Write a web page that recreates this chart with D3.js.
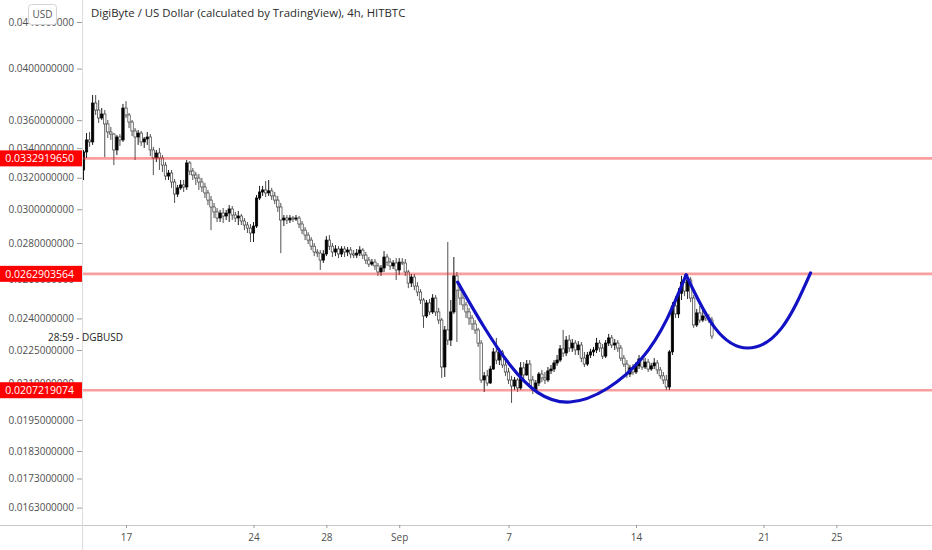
<!DOCTYPE html>
<html><head><meta charset="utf-8">
<script src="https://cdn.jsdelivr.net/npm/d3@7"></script>
<style>
html,body{margin:0;padding:0;background:#fff;}
svg{display:block;font-family:"Open Sans",sans-serif;}
</style></head><body>
<svg id="chart" width="932" height="550"></svg>
<script>
const title = "DigiByte / US Dollar (calculated by TradingView), 4h, HITBTC";
const currency = "USD";
const countdownLabel = "28:59 - DGBUSD";
const firstCandle = "2020-08-14T16:00:00Z";
const candleHours = 4;
// [open, high, low, close]
const ohlc = [
[.03251,.03387,.03185,.03373],[.03373,.03506,.03332,.03457],[.03457,.03514,.03408,.03443],[.03443,.03790,.03422,.03728],
[.03728,.03790,.03638,.03675],[.03675,.03751,.03579,.03616],[.03616,.03690,.03601,.03645],[.03645,.03675,.03338,.03572],
[.03572,.03601,.03471,.03514],[.03514,.03550,.03457,.03499],[.03499,.03506,.03284,.03387],[.03387,.03492,.03352,.03478],
[.03478,.03499,.03415,.03457],[.03457,.03721,.03443,.03690],[.03690,.03743,.03616,.03638],[.03638,.03653,.03542,.03586],
[.03586,.03601,.03485,.03521],[.03521,.03542,.03318,.03478],[.03478,.03528,.03422,.03506],[.03506,.03521,.03415,.03443],
[.03443,.03478,.03401,.03464],[.03464,.03514,.03422,.03478],[.03478,.03499,.03345,.03387],[.03387,.03408,.03218,.03332],
[.03332,.03387,.03304,.03366],[.03366,.03401,.03251,.03332],[.03332,.03352,.03238,.03284],[.03284,.03304,.03185,.03211],
[.03211,.03251,.03185,.03231],[.03231,.03251,.03134,.03172],[.03172,.03192,.03039,.03095],[.03095,.03153,.03076,.03134],
[.03134,.03185,.03121,.03153],[.03153,.03185,.03108,.03140],[.03140,.03318,.03121,.03298],[.03298,.03311,.03218,.03244],
[.03244,.03264,.03185,.03218],[.03218,.03238,.03153,.03198],[.03198,.03225,.03121,.03172],[.03172,.03198,.03108,.03140],
[.03140,.03166,.03070,.03102],[.03102,.03121,.03026,.03057],[.03057,.03083,.02875,.03014],[.03014,.03039,.02947,.02984],
[.02984,.03008,.02923,.02947],[.02947,.02996,.02923,.02977],[.02977,.03008,.02917,.02959],[.02959,.02996,.02935,.02977],
[.02977,.03026,.02923,.03002],[.03002,.03020,.02935,.02965],[.02965,.02984,.02923,.02947],[.02947,.02990,.02905,.02959],
[.02959,.02971,.02905,.02929],[.02929,.02947,.02875,.02905],[.02905,.02923,.02858,.02887],[.02887,.02911,.02806,.02858],
[.02858,.02923,.02806,.02899],[.02899,.03089,.02887,.03070],[.03070,.03147,.03057,.03108],[.03108,.03147,.03083,.03121],
[.03121,.03179,.03076,.03102],[.03102,.03185,.03083,.03115],[.03115,.03134,.03057,.03083],[.03083,.03108,.03032,.03057],
[.03057,.03083,.02984,.03014],[.03014,.03039,.02743,.02935],[.02935,.02965,.02899,.02947],[.02947,.02965,.02911,.02935],
[.02935,.02965,.02917,.02947],[.02947,.02959,.02923,.02941],[.02941,.02965,.02929,.02947],[.02947,.02959,.02887,.02911],
[.02911,.02929,.02852,.02875],[.02875,.02893,.02817,.02846],[.02846,.02863,.02794,.02817],[.02817,.02834,.02760,.02782],
[.02782,.02800,.02726,.02749],[.02749,.02766,.02721,.02743],[.02743,.02760,.02650,.02704],[.02704,.02760,.02688,.02738],
[.02738,.02840,.02726,.02817],[.02817,.02846,.02760,.02782],[.02782,.02800,.02721,.02749],[.02749,.02788,.02726,.02766],
[.02766,.02782,.02715,.02738],[.02738,.02782,.02721,.02766],[.02766,.02782,.02721,.02749],[.02749,.02777,.02726,.02760],
[.02760,.02777,.02715,.02738],[.02738,.02760,.02715,.02732],[.02732,.02766,.02715,.02743],[.02743,.02782,.02726,.02760],
[.02760,.02771,.02710,.02732],[.02732,.02749,.02682,.02704],[.02704,.02721,.02666,.02682],[.02682,.02710,.02672,.02693],
[.02693,.02710,.02650,.02672],[.02672,.02688,.02618,.02639],[.02639,.02677,.02618,.02661],[.02661,.02754,.02639,.02721],
[.02721,.02738,.02672,.02693],[.02693,.02715,.02650,.02672],[.02672,.02704,.02655,.02688],[.02688,.02715,.02596,.02650],
[.02650,.02715,.02623,.02693],[.02693,.02715,.02677,.02688],[.02688,.02710,.02618,.02639],[.02639,.02650,.02553,.02580],
[.02580,.02628,.02559,.02612],[.02612,.02628,.02543,.02564],[.02564,.02585,.02512,.02533],[.02533,.02548,.02472,.02492],
[.02492,.02502,.02354,.02412],[.02412,.02492,.02402,.02477],[.02477,.02497,.02417,.02432],[.02432,.02522,.02422,.02502],
[.02502,.02517,.02412,.02432],[.02432,.02452,.02373,.02392],[.02392,.02402,.02125,.02173],[.02173,.02363,.02129,.02344],
[.02344,.02806,.02273,.02296],[.02296,.02492,.02268,.02432],[.02432,.02721,.02422,.02618],[.02618,.02639,.02287,.02543],
[.02543,.02574,.02467,.02502],[.02502,.02527,.02442,.02467],[.02467,.02482,.02402,.02432],[.02432,.02452,.02368,.02402],
[.02402,.02417,.02344,.02373],[.02373,.02392,.02325,.02344],[.02344,.02354,.02264,.02282],[.02282,.02296,.02103,.02116],
[.02116,.02151,.02065,.02134],[.02134,.02160,.02090,.02103],[.02103,.02178,.02099,.02164],[.02164,.02259,.02160,.02241],
[.02241,.02306,.02186,.02204],[.02204,.02259,.02182,.02241],[.02241,.02250,.02169,.02182],[.02182,.02200,.02134,.02151],
[.02151,.02169,.02099,.02116],[.02116,.02134,.02019,.02090],[.02090,.02129,.02073,.02116],[.02116,.02125,.02065,.02082],
[.02082,.02195,.02073,.02169],[.02169,.02195,.02116,.02138],[.02138,.02204,.02134,.02186],[.02186,.02204,.02099,.02116],
[.02116,.02134,.02056,.02073],[.02073,.02116,.02065,.02103],[.02103,.02151,.02090,.02142],[.02142,.02160,.02107,.02125],
[.02125,.02151,.02099,.02116],[.02116,.02173,.02107,.02156],[.02156,.02182,.02142,.02164],[.02164,.02204,.02151,.02191],
[.02191,.02227,.02178,.02204],[.02204,.02273,.02195,.02255],[.02255,.02344,.02218,.02236],[.02236,.02315,.02222,.02296],
[.02296,.02320,.02241,.02259],[.02259,.02301,.02241,.02282],[.02282,.02296,.02227,.02250],[.02250,.02291,.02227,.02273],
[.02273,.02287,.02195,.02213],[.02213,.02241,.02173,.02186],[.02186,.02241,.02178,.02227],[.02227,.02255,.02213,.02241],
[.02241,.02264,.02222,.02250],[.02250,.02306,.02236,.02282],[.02282,.02296,.02241,.02259],[.02259,.02278,.02209,.02222],
[.02222,.02296,.02213,.02282],[.02282,.02325,.02268,.02306],[.02306,.02320,.02259,.02273],[.02273,.02301,.02250,.02282],
[.02282,.02296,.02241,.02259],[.02259,.02273,.02200,.02213],[.02213,.02227,.02173,.02186],[.02186,.02204,.02125,.02142],
[.02142,.02182,.02129,.02169],[.02169,.02186,.02138,.02151],[.02151,.02195,.02142,.02178],[.02178,.02227,.02164,.02209],
[.02209,.02222,.02160,.02173],[.02173,.02213,.02164,.02195],[.02195,.02209,.02151,.02164],[.02164,.02191,.02156,.02178],
[.02178,.02213,.02164,.02191],[.02191,.02204,.02142,.02160],[.02160,.02173,.02121,.02134],[.02134,.02151,.02099,.02116],
[.02116,.02138,.02073,.02086],[.02086,.02250,.02073,.02241],[.02241,.02482,.02227,.02462],[.02462,.02512,.02402,.02422],
[.02422,.02553,.02402,.02527],[.02527,.02618,.02492,.02585],[.02585,.02623,.02512,.02538],[.02538,.02628,.02497,.02596],
[.02596,.02612,.02482,.02502],[.02502,.02517,.02354,.02368],[.02368,.02447,.02358,.02427],[.02427,.02462,.02378,.02392],
[.02392,.02442,.02382,.02412],[.02412,.02432,.02387,.02402],[.02402,.02422,.02378,.02392],[.02392,.02407,.02301,.02315]
];
const yTicks = [0.044,0.040,0.036,0.034,0.032,0.030,0.028,0.026,0.024,0.0225,0.021,0.0195,0.0183,0.0173,0.0163];
const xTickDates = ["2020-08-17","2020-08-24","2020-08-28","2020-09-01","2020-09-07","2020-09-14","2020-09-21","2020-09-25"];
const xTickLabels = ["17","24","28","Sep","7","14","21","25"];
const levels = [0.0332919650, 0.0262903564, 0.0207219074];
const levelLabels = ["0.0332919650","0.0262903564","0.0207219074"];
// hand-drawn cup and handle curves: [date, price]
const cupCurve = [["2020-09-04T05:00Z",.02585],["2020-09-07T02:00Z",.02182],["2020-09-10T09:00Z",.02023],
  ["2020-09-14T08:00Z",.02213],["2020-09-16T18:00Z",.02623]];
const handleCurve = [["2020-09-16T18:00Z",.02623],["2020-09-18T08:00Z",.02354],["2020-09-20T03:00Z",.02259],
  ["2020-09-22T00:00Z",.02354],["2020-09-23T14:00Z",.02634]];

const W = 932, H = 550, axisX = 82, axisY = 525;
const svg = d3.select("#chart");
svg.append("rect").attr("width",W).attr("height",H).attr("fill","#fff");

const x = d3.scaleUtc().domain([new Date(Date.UTC(2020,7,17)), new Date(Date.UTC(2020,8,14))]).range([126,636]);
const y = d3.scaleLog().domain([0.0163, 0.044]).range([507.6, 22]);

svg.append("defs").append("clipPath").attr("id","plot")
  .append("rect").attr("x",axisX).attr("y",0).attr("width",W-axisX).attr("height",axisY);

const plot = svg.append("g").attr("clip-path","url(#plot)");

// candles
const t0 = new Date(firstCandle).getTime();
const candles = ohlc.map((d,i)=>({date:new Date(t0 + i*candleHours*3600e3), o:d[0], h:d[1], l:d[2], c:d[3]}));
const bw = 2.4;
const cg = plot.append("g");
cg.selectAll("line.wick").data(candles).join("line").attr("class","wick")
  .attr("x1",d=>x(d.date)).attr("x2",d=>x(d.date))
  .attr("y1",d=>y(d.h)).attr("y2",d=>y(d.l))
  .attr("stroke",d=>d.c>=d.o?"#000":"#3c3c3c").attr("stroke-width",0.9);
cg.selectAll("rect.body").data(candles).join("rect").attr("class","body")
  .attr("x",d=>x(d.date)-bw/2).attr("width",bw)
  .attr("y",d=>Math.min(y(d.o),y(d.c)))
  .attr("height",d=>Math.max(1,Math.abs(y(d.o)-y(d.c))))
  .attr("fill",d=>d.c>=d.o?"#000":"#fff")
  .attr("stroke",d=>d.c>=d.o?"#000":"#3c3c3c").attr("stroke-width",0.7);

// level lines
plot.selectAll("line.level").data(levels).join("line").attr("class","level")
  .attr("x1",axisX).attr("x2",W).attr("y1",d=>y(d)).attr("y2",d=>y(d))
  .attr("stroke","rgba(240,40,40,0.45)").attr("stroke-width",2.6);

// cup & handle
const line = d3.line().x(d=>x(new Date(d[0]))).y(d=>y(d[1])).curve(d3.curveNatural);
plot.selectAll("path.cup").data([cupCurve, handleCurve]).join("path").attr("class","cup")
  .attr("d",line).attr("fill","none").attr("stroke","#1212c4").attr("stroke-width",3.2).attr("stroke-linecap","round");

// axes frame lines
svg.append("line").attr("x1",0).attr("x2",W).attr("y1",axisY+0.5).attr("y2",axisY+0.5).attr("stroke","#c8c8c8");
svg.append("line").attr("x1",axisX+0.5).attr("x2",axisX+0.5).attr("y1",0).attr("y2",H).attr("stroke","#dcdcdc");

// y axis
const ya = svg.append("g").attr("transform",`translate(${axisX},0)`)
  .call(d3.axisLeft(y).tickValues(yTicks).tickFormat(d3.format(".10f")).tickSize(5).tickPadding(3));
ya.select(".domain").remove();
ya.selectAll(".tick line").attr("stroke","#9a9a9a");
ya.selectAll(".tick text").attr("fill","#4f4f4f").style("font-size","10px").style("font-family","'Open Sans',sans-serif");

// x axis
const xa = svg.append("g").attr("transform",`translate(0,${axisY})`)
  .call(d3.axisBottom(x).tickValues(xTickDates.map(s=>new Date(s+"T00:00:00Z"))).tickFormat((d,i)=>xTickLabels[i]).tickSize(3).tickPadding(6));
xa.select(".domain").remove();
xa.selectAll(".tick line").attr("stroke","#9a9a9a");
xa.selectAll(".tick text").attr("fill","#4f4f4f").style("font-size","10px").style("font-family","'Open Sans',sans-serif");

// level labels
const lg = svg.selectAll("g.lvl").data(levels).join("g").attr("class","lvl")
  .attr("transform",d=>`translate(0,${y(d)})`);
lg.append("rect").attr("x",0).attr("y",-8).attr("width",axisX).attr("height",16).attr("fill","#ff0000");
lg.append("text").attr("x",74).attr("y",0).attr("dy","0.35em").attr("text-anchor","end")
  .attr("fill","#fff").style("font-size","10.5px").text((d,i)=>levelLabels[i]);

// USD box
svg.append("rect").attr("x",28.5).attr("y",4.5).attr("width",28).attr("height",20).attr("rx",3)
  .attr("fill","#fff").attr("stroke","#d4d4d4");
svg.append("text").attr("x",42.5).attr("y",14.5).attr("dy","0.35em").attr("text-anchor","middle")
  .attr("fill","#555").style("font-size","10px").text(currency);

// title
svg.append("text").attr("x",91).attr("y",13.5).attr("dy","0.35em")
  .attr("fill","#2a2a2a").style("font-size","11.4px").text(title);

// countdown label
svg.append("text").attr("x",48).attr("y",337).attr("dy","0.35em")
  .attr("fill","#222").style("font-size","10px").text(countdownLabel);
</script>
</body></html>
